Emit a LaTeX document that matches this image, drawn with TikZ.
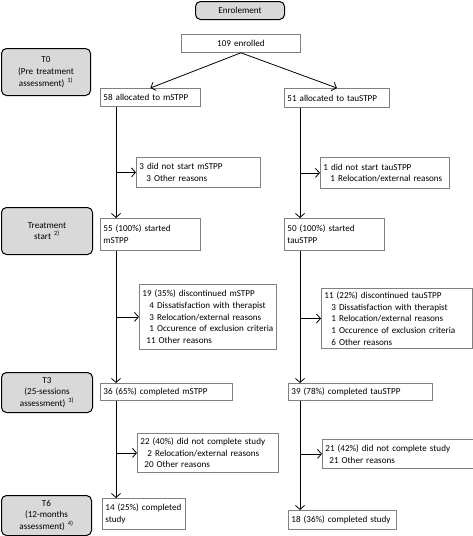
\documentclass[tikz,border=0pt]{standalone}
\usepackage{fontspec}
\setmainfont{Carlito}
\usetikzlibrary{arrows,arrows.meta}
\newcommand{\ind}[1]{\hspace*{#1pt}}

\begin{document}
\begin{tikzpicture}[x=1pt,y=-1pt,
  >={Straight Barb[length=4pt,width=9pt]}, line width=0.8pt,
  every node/.style={font=\fontsize{9.1}{11.7}\selectfont},
  phase/.style 2 args={draw, line width=1pt, rounded corners=5pt,
    fill=black!15, anchor=north west, align=center, inner xsep=0pt,
    text width=#1, minimum height=#2},
  stage/.style 2 args={draw=black!50, anchor=north west, align=left,
    inner xsep=3pt, text width=#1, minimum height=#2}]
  \useasboundingbox (0,0) rectangle (473,536);
  \coordinate (L) at (116,0);
  \coordinate (R) at (300,0);

  \node [phase={89pt}{18pt}] (1) at (195,1) {Enrolement};
  \node [stage={113pt}{18pt}, align=center] (2) at (181,34)
    {109 enrolled};

  \node [phase={89pt}{47pt}] (3) at (1,48)
    {T0\\(Pre treatment\\assessment) \textsuperscript{1)}};
  \node [stage={94pt}{18pt}] (4) at (100,88)
    {58 allocated to mSTPP};
  \node [stage={99pt}{19pt}] (5) at (284,88)
    {51 allocated to tauSTPP};
  \node [stage={118pt}{30pt}] (6) at (136,157)
    {3 did not start mSTPP\\\ind{7}3 Other reasons};
  \node [stage={123pt}{31pt}] (7) at (320,157)
    {1 did not start tauSTPP\\\ind{7}1 Relocation/external reasons};

  \node [phase={91pt}{47pt}] (8) at (1,207)
    {Treatment\\start \textsuperscript{2)}};
  \node [stage={94pt}{32pt}] (9) at (100,218)
    {55 (100\%) started\\mSTPP};
  \node [stage={94pt}{32pt}] (10) at (284,218)
    {50 (100\%) started\\tauSTPP};
  \node [stage={131pt}{65pt}] (11) at (139,284)
    {19 (35\%) discontinued mSTPP\\
     \ind{7}4 Dissatisfaction with therapist\\
     \ind{7}3 Relocation/external reasons\\
     \ind{7}1 Occurence of exclusion criteria\\
     \ind{4}11 Other reasons};
  \node [stage={145pt}{60pt}] (12) at (321,288)
    {11 (22\%) discontinued tauSTPP\\
     \ind{7}3 Dissatisfaction with therapist\\
     \ind{7}1 Relocation/external reasons\\
     \ind{7}1 Occurence of exclusion criteria\\
     \ind{7}6 Other reasons};

  \node [phase={91pt}{40pt}] (13) at (1,372)
    {T3\\(25-sessions\\assessment) \textsuperscript{3)}};
  \node [stage={126pt}{17pt}] (14) at (100,383)
    {36 (65\%) completed mSTPP};
  \node [stage={138pt}{17pt}] (15) at (288,383)
    {39 (78\%) completed tauSTPP};
  \node [stage={135pt}{39pt}] (16) at (137,433)
    {22 (40\%) did not complete study\\
     \ind{7}2 Relocation/external reasons\\
     \ind{4}20 Other reasons};
  \node [stage={145pt}{29pt}] (17) at (322,439)
    {21 (42\%) did not complete study\\
     \ind{4}21 Other reasons};

  \node [phase={90pt}{40pt}] (18) at (1,495)
    {T6\\(12-months\\assessment) \textsuperscript{4)}};
  \node [stage={77pt}{31pt}] (19) at (102,498)
    {14 (25\%) completed\\study};
  \node [stage={102pt}{19pt}] (20) at (288,510)
    {18 (36\%) completed study};

  \draw [->] (2.south) to (4.north);
  \draw [->] (2.south) to (5.north);
  \draw [->] (4.south -| L) to (9.north -| L);
  \draw [->] (5.south -| R) to (10.north -| R);
  \draw [->] (6.west -| L) to (6.west);
  \draw [->] (7.west -| R) to (7.west);
  \draw [->] (9.south -| L) to (14.north -| L);
  \draw [->] (10.south -| R) to (15.north -| R);
  \draw [->] (11.west -| L) to (11.west);
  \draw [->] (12.west -| R) to (12.west);
  \draw [->] (14.south -| L) to (19.north -| L);
  \draw [->] (15.south -| R) to (20.north -| R);
  \draw [->] (16.west -| L) to (16.west);
  \draw [->] (17.west -| R) to (17.west);
\end{tikzpicture}
\end{document}
